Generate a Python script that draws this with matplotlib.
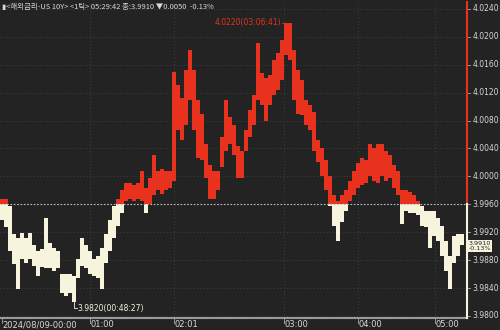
import numpy as np
import matplotlib.pyplot as plt

# tick chart of US 10Y yield, bucketed high/low per column group
hi = [3.9968, 3.9968, 3.9958, 3.9918, 3.9911, 3.9919, 3.9911, 3.9919, 3.9901, 3.9893,
      3.9896, 3.9940, 3.9904, 3.9898, 3.9893, 3.9860, 3.9860, 3.9860, 3.9857, 3.9882,
      3.9911, 3.9901, 3.9893, 3.9882, 3.9886, 3.9898, 3.9918, 3.9937, 3.9958, 3.9967,
      3.9980, 3.9990, 3.9990, 3.9987, 3.9990, 4.0008, 3.9984, 3.9997, 4.0030, 4.0008,
      4.0011, 4.0008, 4.0008, 4.0149, 4.0131, 4.0113, 4.0152, 4.0181, 4.0152, 4.0109,
      4.0090, 4.0047, 4.0016, 4.0008, 4.0008, 4.0056, 4.0109, 4.0085, 4.0073, 4.0044,
      4.0037, 4.0066, 4.0095, 4.0116, 4.0191, 4.0148, 4.0141, 4.0145, 4.0167, 4.0177,
      4.0195, 4.0220, 4.0220, 4.0181, 4.0152, 4.0138, 4.0109, 4.0102, 4.0092, 4.0052,
      4.0040, 4.0023, 4.0001, 3.9973, 3.9965, 3.9973, 3.9980, 3.9994, 4.0008, 4.0019,
      4.0027, 4.0023, 4.0047, 4.0040, 4.0047, 4.0047, 4.0037, 4.0030, 4.0016, 4.0008,
      3.9980, 3.9980, 3.9977, 3.9973, 3.9965, 3.9958, 3.9951, 3.9951, 3.9951, 3.9941,
      3.9929, 3.9908, 3.9886, 3.9915, 3.9918, 3.9918]
lo = [3.9937, 3.9927, 3.9893, 3.9875, 3.9839, 3.9882, 3.9876, 3.9882, 3.9872, 3.9857,
      3.9870, 3.9868, 3.9868, 3.9865, 3.9868, 3.9833, 3.9829, 3.9833, 3.9820, 3.9855,
      3.9872, 3.9868, 3.9860, 3.9857, 3.9855, 3.9839, 3.9876, 3.9893, 3.9911, 3.9929,
      3.9948, 3.9965, 3.9968, 3.9965, 3.9968, 3.9965, 3.9948, 3.9961, 3.9973, 3.9980,
      3.9975, 3.9980, 3.9983, 3.9994, 4.0066, 4.0052, 4.0073, 4.0109, 4.0066, 4.0027,
      4.0023, 3.9998, 3.9968, 3.9968, 3.9980, 4.0013, 4.0037, 4.0047, 4.0030, 3.9998,
      3.9998, 4.0037, 4.0056, 4.0073, 4.0109, 4.0102, 4.0080, 4.0102, 4.0116, 4.0124,
      4.0138, 4.0174, 4.0167, 4.0109, 4.0090, 4.0088, 4.0073, 4.0066, 4.0037, 4.0020,
      4.0001, 3.9980, 3.9958, 3.9929, 3.9908, 3.9934, 3.9951, 3.9965, 3.9973, 3.9984,
      3.9987, 3.9991, 4.0001, 3.9994, 3.9990, 4.0001, 3.9994, 3.9997, 3.9984, 3.9973,
      3.9932, 3.9951, 3.9948, 3.9947, 3.9944, 3.9929, 3.9927, 3.9898, 3.9915, 3.9908,
      3.9886, 3.9865, 3.9839, 3.9876, 3.9886, 3.9901]

base = 3.9960   # previous close
last = 3.9910
price_ticks = [3.9800, 3.9840, 3.9880, 3.9920, 3.9960, 4.0000, 4.0040,
               4.0080, 4.0120, 4.0160, 4.0200, 4.0240]
time_pos = [0, 22, 43, 70.5, 89, 108.25]
time_labels = ['2024/08/09-00:00', '01:00', '02:01', '03:00', '04:00', '05:00']
max_idx, max_label = 71.5, '4.0220(03:06:41)'
min_idx, min_label = 18, '3.9820(00:48:27)'

BG = '#232323'
RED = '#e8321e'
CREAM = '#f6f4dc'
GRID = '#4a4a4a'
TXT = '#d8d8d8'

plt.rcParams['font.family'] = ['Noto Sans CJK KR', 'DejaVu Sans']

fig = plt.figure(figsize=(5, 3.3), dpi=100)
fig.patch.set_facecolor(BG)
ax = fig.add_axes([0, 12/330, 467/500, 316/330])
ax.set_facecolor(BG)

hi = np.array(hi)
lo = np.array(lo)
x = np.arange(len(hi))

# split each column at the base line
up_bot = np.maximum(lo, base)
m = hi > base
ax.bar(x[m], (hi - up_bot)[m], bottom=up_bot[m], width=1.0, color=RED,
       linewidth=0, antialiased=False, zorder=3)
dn_top = np.minimum(hi, base)
m = lo < base
ax.bar(x[m], (dn_top - lo)[m], bottom=lo[m], width=1.0, color=CREAM,
       linewidth=0, antialiased=False, zorder=3)

ax.set_xlim(-0.5, 116.25)
ax.set_ylim(3.9797, 4.0250)

# grid
for p in price_ticks:
    ax.axhline(p, color=GRID, lw=0.6, ls=(0, (1, 3)), zorder=1)
for t in time_pos[1:]:
    ax.axvline(t, color=GRID, lw=0.6, ls=(0, (1, 3)), zorder=1)
ax.axhline(base, color='#bbbbbb', lw=0.8, ls=(0, (1.5, 1.5)), zorder=4)

ax.set_xticks([])
ax.set_yticks([])
for s in ax.spines.values():
    s.set_visible(False)
ax.axhline(3.9797, color='#9a9a9a', lw=1.5, zorder=5, clip_on=False)

# right axis line: red above base, cream below
ax.plot([1, 1], [base, 4.0250], transform=ax.get_yaxis_transform(),
        color=RED, lw=1.5, clip_on=False, zorder=5)
ax.plot([1, 1], [3.9797, base], transform=ax.get_yaxis_transform(),
        color=CREAM, lw=1.5, clip_on=False, zorder=5)

for p in price_ticks:
    ax.plot([1, 1.006], [p, p], transform=ax.get_yaxis_transform(),
            color='#aaaaaa', lw=0.6, clip_on=False)
    ax.text(1.011, p, f'{p:.4f}', transform=ax.get_yaxis_transform(),
            color=TXT, fontsize=5.5, va='center', ha='left', family='DejaVu Sans')

# time labels
for t, lab in zip(time_pos, time_labels):
    ax.plot([t, t], [3.9797, 3.9790], color='#aaaaaa', lw=0.6, clip_on=False)
    ax.text(t + 0.2, 3.9794, lab, color=TXT, fontsize=6, va='top', ha='left',
            family='DejaVu Sans', clip_on=False)

# max / min annotations
ax.plot([max_idx - 1.5, max_idx], [4.0220, 4.0220], color=RED, lw=0.6, zorder=6)
ax.text(max_idx - 1.7, 4.0220, max_label, color=RED, fontsize=5.5,
        va='center', ha='right', family='DejaVu Sans')
ax.plot([min_idx, min_idx, min_idx + 0.8], [3.9820, 3.9811, 3.9811],
        color=CREAM, lw=0.6, zorder=6)
ax.text(min_idx + 0.9, 3.9811, min_label, color=CREAM, fontsize=5.5,
        va='center', ha='left', family='DejaVu Sans')

# current price box, between the 3.988 and 3.992 labels
ax.text(1.004, 3.9900, f'{last:.4f}\n-0.13%', transform=ax.get_yaxis_transform(),
        color=BG, fontsize=4.6, va='center', ha='left', family='DejaVu Sans',
        linespacing=0.95,
        bbox=dict(boxstyle='square,pad=0.15', fc=CREAM, ec='none'), zorder=7)

# header
fig.text(0.004, 0.980, '▮<해외금리-US 10Y> <1틱> 05:29:42 종:3.9910 ▼0.0050  -0.13%',
         color=TXT, fontsize=5.4, va='center', ha='left')

fig.savefig('out.png', dpi=100, facecolor=BG)
